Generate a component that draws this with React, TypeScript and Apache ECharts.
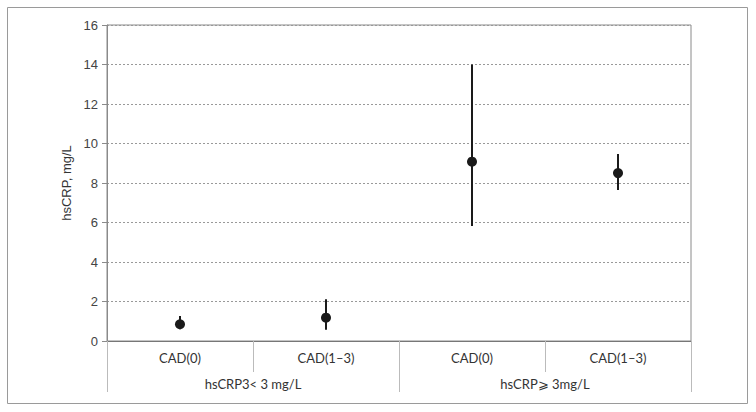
import React, { useEffect, useRef } from "react";
import * as echarts from "echarts";

const categories = ["CAD(0)", "CAD(1–3)", "CAD(0)", "CAD(1–3)"];
const groups = ["hsCRP3< 3 mg/L", "hsCRP⩾ 3mg/L"];
const means = [0.85, 1.18, 9.08, 8.5];
const lows = [0.6, 0.57, 5.82, 7.65];
const highs = [1.27, 2.12, 14.0, 9.47];
const yTicks = { min: 0, max: 16, interval: 2 };

export default function App() {
  const ref = useRef<HTMLDivElement>(null);
  useEffect(() => {
    document.body.style.margin = "0";
    const chart = echarts.init(ref.current!, null, { renderer: "svg" });
    const errData = categories.map((_, i) => [i, lows[i], highs[i]]);
    chart.setOption({
      animation: false,
      backgroundColor: "#fff",
      graphic: [
        {
          type: "rect",
          shape: { x: 7.5, y: 7.5, width: 740, height: 396 },
          style: { fill: "none", stroke: "#9a9a9a", lineWidth: 1 },
          silent: true,
        },
      ],
      grid: {
        left: 107,
        right: 65,
        top: 25,
        bottom: 71,
        show: true,
        borderColor: "#8a8a8a",
        borderWidth: 1,
      },
      xAxis: [
        {
          type: "category",
          data: categories,
          position: "bottom",
          boundaryGap: true,
          axisLine: { show: true, lineStyle: { color: "#777", width: 1 } },
          axisTick: { show: true, interval: 0, length: 31, lineStyle: { color: "#bbb" } },
          axisLabel: {
            interval: 0,
            margin: 10,
            color: "#333",
            fontSize: 13,
            fontFamily: "Lato, 'Noto Sans', sans-serif",
          },
        },
        {
          type: "category",
          data: groups,
          position: "bottom",
          boundaryGap: true,
          axisLine: { show: false },
          axisTick: { show: true, interval: 0, length: 51, lineStyle: { color: "#bbb" } },
          axisLabel: {
            interval: 0,
            margin: 36,
            color: "#333",
            fontSize: 13,
            fontFamily: "Lato, 'Noto Sans', sans-serif",
          },
        },
      ],
      yAxis: {
        type: "value",
        min: yTicks.min,
        max: yTicks.max,
        interval: yTicks.interval,
        name: "hsCRP, mg/L",
        nameLocation: "middle",
        nameRotate: 90,
        nameGap: 30,
        nameTextStyle: { color: "#333", fontSize: 13, fontFamily: "'Liberation Sans', Arial, sans-serif" },
        axisLine: { show: true, lineStyle: { color: "#8a8a8a" } },
        axisTick: { show: true, length: 5, lineStyle: { color: "#8a8a8a" } },
        axisLabel: {
          color: "#444",
          fontSize: 13,
          margin: 9,
          fontFamily: "'Liberation Sans', Arial, sans-serif",
        },
        splitLine: { show: true, lineStyle: { color: "#999", type: [2, 2], width: 1 } },
      },
      series: [
        {
          type: "custom",
          xAxisIndex: 0,
          data: errData,
          renderItem: (params: any, api: any) => {
            const x = api.value(0);
            const p1 = api.coord([x, api.value(1)]);
            const p2 = api.coord([x, api.value(2)]);
            return {
              type: "line",
              shape: { x1: p1[0], y1: p1[1], x2: p2[0], y2: p2[1] },
              style: { stroke: "#1a1a1a", lineWidth: 2 },
            };
          },
          z: 2,
        },
        {
          type: "scatter",
          xAxisIndex: 0,
          data: means,
          symbol: "circle",
          symbolSize: 10,
          itemStyle: { color: "#1a1a1a", opacity: 1 },
          z: 3,
        },
      ],
    });
    return () => chart.dispose();
  }, []);
  return <div ref={ref} style={{ width: 756, height: 412 }} />;
}
